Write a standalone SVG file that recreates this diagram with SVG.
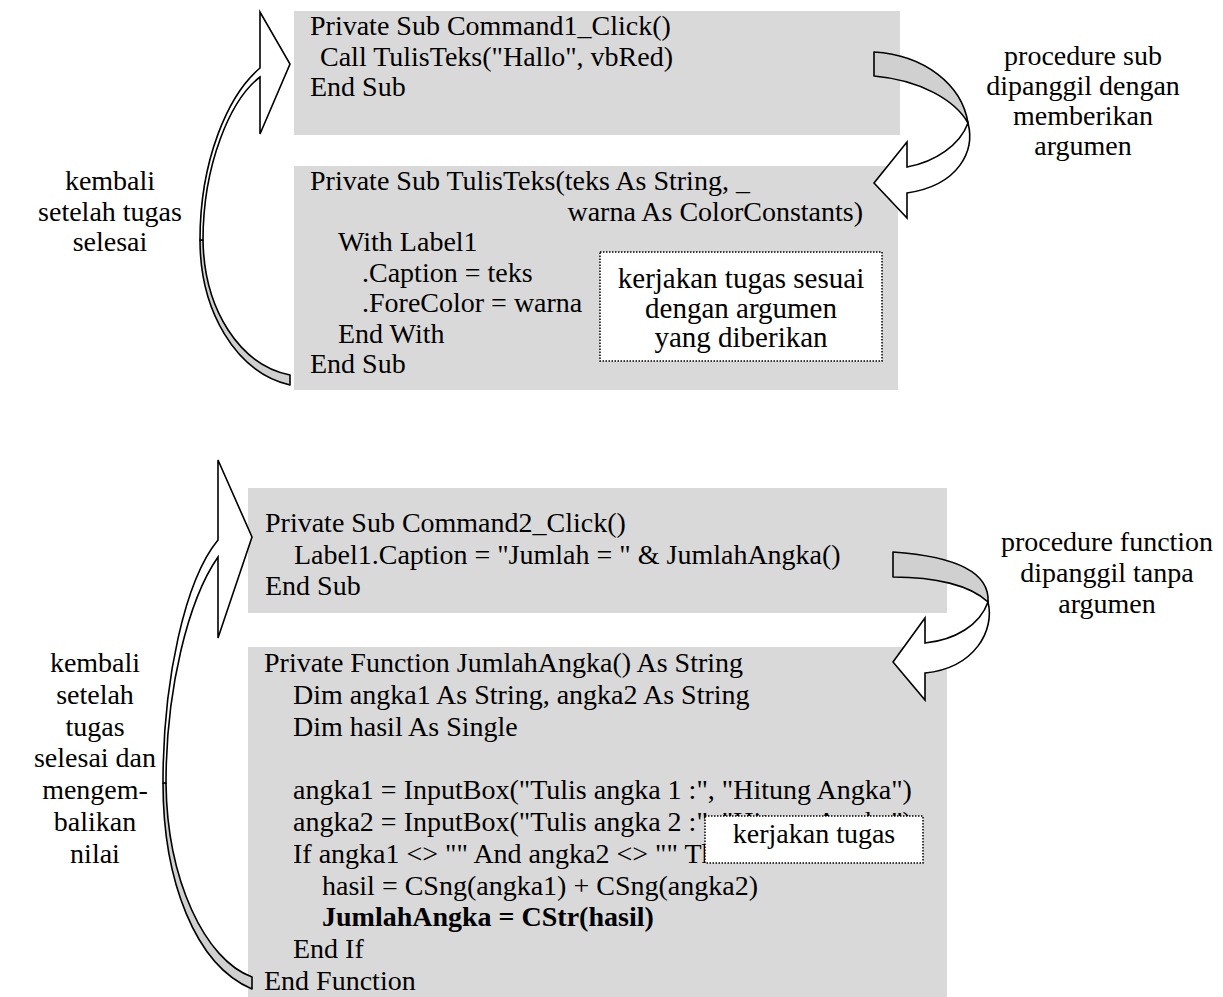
<svg xmlns="http://www.w3.org/2000/svg" width="1223" height="997" viewBox="0 0 1223 997">
<style>
.box{fill:#d9d9d9;stroke:none}
.note{fill:#ffffff;stroke:#000;stroke-width:1.5;stroke-dasharray:1.5 1.5}
.t{font-family:"Liberation Serif","Times New Roman",serif;font-size:28px;fill:#000}
.c{text-anchor:middle}
.b{font-weight:bold}
.back{fill:#d0d0d0;stroke:#000;stroke-width:1.6;stroke-linejoin:round}
.front{fill:#ffffff;stroke:#000;stroke-width:1.6;stroke-linejoin:miter}
</style>
<rect width="1223" height="997" fill="#ffffff"/>

<g id="node-command1">
<rect class="box" x="294" y="11" width="606" height="124"/>
<text class="t" x="310" y="35">Private Sub Command1_Click()</text>
<text class="t" x="320" y="65.5">Call TulisTeks("Hallo", vbRed)</text>
<text class="t" x="310" y="96">End Sub</text>
</g>

<g id="node-tulisteks">
<rect class="box" x="294" y="166" width="604" height="224"/>
<text class="t" x="310" y="190">Private Sub TulisTeks(teks As String, _</text>
<text class="t" x="863" y="220.5" text-anchor="end">warna As ColorConstants)</text>
<text class="t" x="338" y="251">With Label1</text>
<text class="t" x="362" y="281.5">.Caption = teks</text>
<text class="t" x="362" y="312">.ForeColor = warna</text>
<text class="t" x="338" y="342.5">End With</text>
<text class="t" x="310" y="373">End Sub</text>
</g>

<g id="note-kerjakan1">
<rect class="note" x="600" y="252" width="282" height="109"/>
<text class="t c" style="font-size:29px" x="741" y="288">kerjakan tugas sesuai</text>
<text class="t c" style="font-size:29px" x="741" y="318">dengan argumen</text>
<text class="t c" style="font-size:29px" x="741" y="347">yang diberikan</text>
</g>

<g id="node-command2">
<rect class="box" x="248" y="488" width="699" height="125"/>
<text class="t" x="265" y="532">Private Sub Command2_Click()</text>
<text class="t" x="294" y="563.5">Label1.Caption = "Jumlah = " &amp; JumlahAngka()</text>
<text class="t" x="265" y="595">End Sub</text>
</g>

<g id="node-jumlahangka">
<rect class="box" x="248" y="647" width="699" height="350"/>
<text class="t" x="264" y="672">Private Function JumlahAngka() As String</text>
<text class="t" x="293" y="703.8">Dim angka1 As String, angka2 As String</text>
<text class="t" x="293" y="735.6">Dim hasil As Single</text>
<text class="t" x="293" y="799.2">angka1 = InputBox("Tulis angka 1 :", "Hitung Angka")</text>
<text class="t" x="293" y="831">angka2 = InputBox("Tulis angka 2 :", "Hitung Angka")</text>
<text class="t" x="293" y="862.8">If angka1 &lt;&gt; "" And angka2 &lt;&gt; "" Then</text>
<text class="t" x="322" y="894.6">hasil = CSng(angka1) + CSng(angka2)</text>
<text class="t b" x="322" y="926.4">JumlahAngka = CStr(hasil)</text>
<text class="t" x="293" y="958.2">End If</text>
<text class="t" x="264" y="990">End Function</text>
</g>

<g id="note-kerjakan2">
<rect class="note" x="705" y="816" width="218" height="47"/>
<text class="t c" x="814" y="843">kerjakan tugas</text>
</g>

<g id="label-kembali1">
<text class="t c" x="110" y="190">kembali</text>
<text class="t c" x="110" y="220.5">setelah tugas</text>
<text class="t c" x="110" y="251">selesai</text>
</g>

<g id="label-procsub">
<text class="t c" x="1083" y="65">procedure sub</text>
<text class="t c" x="1083" y="95">dipanggil dengan</text>
<text class="t c" x="1083" y="125">memberikan</text>
<text class="t c" x="1083" y="155">argumen</text>
</g>

<g id="label-procfunc">
<text class="t c" x="1107" y="551">procedure function</text>
<text class="t c" x="1107" y="582">dipanggil tanpa</text>
<text class="t c" x="1107" y="613">argumen</text>
</g>

<g id="label-kembali2">
<text class="t c" x="95" y="672">kembali</text>
<text class="t c" x="95" y="703.8">setelah</text>
<text class="t c" x="95" y="735.6">tugas</text>
<text class="t c" x="95" y="767.4">selesai dan</text>
<text class="t c" x="95" y="799.2">mengem-</text>
<text class="t c" x="95" y="831">balikan</text>
<text class="t c" x="95" y="862.8">nilai</text>
</g>

<g id="connectors">
<path class="back" d="M290,375 L290,385 C235,372 200,310 200,240 L203,240 C204,310 240,365 290,375 Z"/>
<path class="front" d="M200,240 C200,160 228,95 260,68 L260,12 L290,64 L260,134 L260,77 C230,100 203,165 203,240 Z"/>
<path class="back" d="M874,52 L874,76 C920,80 955,100 968,123 C962,85 925,55 874,52 Z"/>
<path class="front" d="M968,123 C975,150 960,185 907,193 L907,218 L874,183 L907,142 L907,167 C935,162 960,145 968,123 Z"/>
<path class="back" d="M252,977 L252,989 C195,965 163,880 163,783 L166,783 C167,880 205,960 252,977 Z"/>
<path class="front" d="M163,783 C163,680 185,580 218,540 L218,460 L252,537 L218,638 L218,557 C188,600 166,690 166,783 Z"/>
<path class="back" d="M893,552 L893,577 C935,577 970,585 988,602 C990,570 950,556 893,552 Z"/>
<path class="front" d="M988,602 C995,630 975,668 925,673 L925,700 L893,662 L925,618 L925,643 C955,640 980,625 988,602 Z"/>
</g>
</svg>
